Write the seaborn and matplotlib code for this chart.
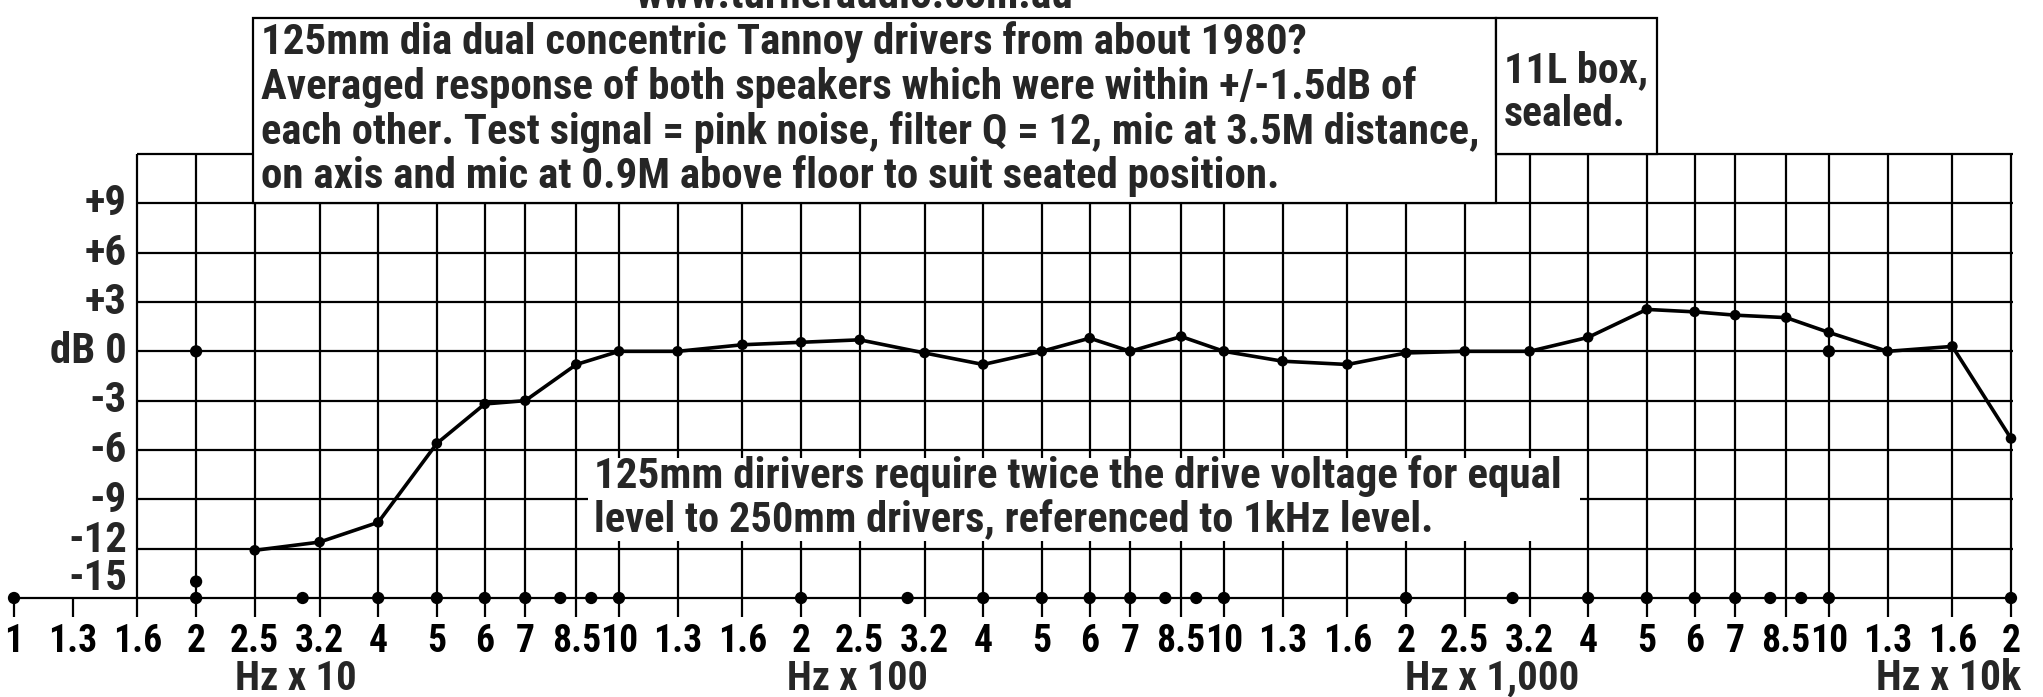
import matplotlib
matplotlib.use("Agg")
import matplotlib.pyplot as plt
from matplotlib import font_manager as fm
from matplotlib.patches import Rectangle
import pandas as pd
import seaborn as sns

# ---------------- data ----------------
curve_freq = [25, 32, 40, 50, 60, 70, 85, 100, 125, 160, 200, 250, 320, 400, 500,
              600, 700, 850, 1000, 1250, 1600, 2000, 2500, 3200, 4000, 5000, 6000,
              7000, 8500, 10000, 12500, 16000, 20000]
curve_db = [-12.1, -11.6, -10.4, -5.6, -3.2, -3.0, -0.8, 0.0, 0.0, 0.4, 0.55, 0.7,
            -0.1, -0.8, 0.0, 0.8, 0.0, 0.9, 0.0, -0.6, -0.8, -0.1, 0.0, 0.0, 0.85,
            2.55, 2.4, 2.2, 2.05, 1.15, 0.0, 0.3, -5.3]

axis_marker_freq = [10, 20, 30, 40, 50, 60, 70, 80, 90, 100, 200, 300, 400, 500, 600,
                    700, 800, 900, 1000, 2000, 3000, 4000, 5000, 6000, 7000, 8000,
                    9000, 10000, 20000]
axis_marker_db = [-15] * len(axis_marker_freq)

ref_marker_freq = [20, 20, 10000]
ref_marker_db = [0, -14, 0]

grid_freq = [16, 20, 25, 32, 40, 50, 60, 70, 85, 100, 125, 160, 200, 250, 320, 400,
             500, 600, 700, 850, 1000, 1250, 1600, 2000, 2500, 3200, 4000, 5000,
             6000, 7000, 8500, 10000, 12500, 16000, 20000]
grid_db = [12, 9, 6, 3, 0, -3, -6, -9, -12]

tick_freq = [10, 12.5] + grid_freq
decade_labels = ['1.3', '1.6', '2', '2.5', '3.2', '4', '5', '6', '7', '8.5', '10']
tick_labels = ['1'] + decade_labels * 3 + ['1.3', '1.6', '2']

ylabel_text = ['+9', '+6', '+3', 'dB 0', '-3', '-6', '-9', '-12', '-15']
axis_titles = ['Hz x 10', 'Hz x 100', 'Hz x 1,000', 'Hz x 10k']

title_text = 'www.turneraudio.com.au'
note_lines = ['125mm dia dual concentric Tannoy drivers from about 1980?',
              'Averaged response of both speakers which were within +/-1.5dB of',
              'each other. Test signal = pink noise, filter Q = 12, mic at 3.5M distance,',
              'on axis and mic at 0.9M above floor to suit seated position.']
box_lines = ['11L box,', 'sealed.']
drive_lines = ['125mm dirivers require twice the drive voltage for equal',
               'level to 250mm drivers, referenced to 1kHz level.']

# ---------------- style ----------------
sns.set_theme(style="white")


def has_font(name):
    try:
        fm.findfont(fm.FontProperties(family=name), fallback_to_default=False)
        return True
    except Exception:
        return False


FAM = 'Liberation Sans'
for cand in ['Liberation Sans Narrow', 'Roboto Condensed', 'Open Sans Condensed']:
    if has_font(cand):
        FAM = cand
        break
plt.rcParams['font.family'] = [FAM, 'DejaVu Sans']
plt.rcParams['font.weight'] = 'bold'

W, H = 2043, 697
fig = plt.figure(figsize=(W / 100, H / 100), dpi=100, facecolor='white')


def fx(px):
    return px / W


def fy(py):
    return 1 - py / H


ax = fig.add_axes([fx(14), fy(598), (2011 - 14) / W, (598 - 154) / H])
ax.set_facecolor('white')
ax.set_xscale('log')
ax.set_xlim(10, 20000)
ax.set_ylim(-15, 12)
for s in ax.spines.values():
    s.set_visible(False)

LW = 1.6
# grid
ax.vlines(grid_freq, -15, 12, color='black', lw=LW, zorder=1, clip_on=False)
ax.hlines(grid_db, 16, 20150, color='black', lw=LW, zorder=1, clip_on=False)
ax.hlines(-15, 10, 20150, color='black', lw=LW, zorder=1, clip_on=False)

# ticks
ax.set_xticks(tick_freq)
ax.set_xticks([], minor=True)
ax.set_xticklabels(tick_labels)
ax.set_yticks([])
ax.tick_params(axis='x', direction='out', length=19 * 0.72, width=LW,
               color='black', pad=4.0, labelcolor='black', bottom=True)

# data
df_curve = pd.DataFrame({'freq': curve_freq, 'db': curve_db})
sns.lineplot(data=df_curve, x='freq', y='db', ax=ax, color='black', lw=2.6,
             sort=False, estimator=None, zorder=3, clip_on=False)
sns.scatterplot(data=df_curve, x='freq', y='db', ax=ax, color='black', s=58,
                edgecolor='none', zorder=4, clip_on=False)
df_axis = pd.DataFrame({'freq': axis_marker_freq, 'db': axis_marker_db})
sns.scatterplot(data=df_axis, x='freq', y='db', ax=ax, color='black', s=78,
                edgecolor='none', zorder=4, clip_on=False)
df_ref = pd.DataFrame({'freq': ref_marker_freq, 'db': ref_marker_db})
sns.scatterplot(data=df_ref, x='freq', y='db', ax=ax, color='black', s=78,
                edgecolor='none', zorder=4, clip_on=False)
ax.set_xlabel('')
ax.set_ylabel('')


# boxes (figure pixel coordinates)
def rect(x0, y0, x1, y1, edge=True):
    r = Rectangle((fx(x0), fy(y1)), (x1 - x0) / W, (y1 - y0) / H,
                  transform=fig.transFigure, facecolor='white',
                  edgecolor='black' if edge else 'none', lw=LW, zorder=10)
    fig.add_artist(r)


rect(253, 18, 1496, 203)
rect(1496, 18, 1657, 154)
rect(588, 458, 1580, 541, edge=False)

fig.canvas.draw()
renderer = fig.canvas.get_renderer()


def fit(t, target):
    for _ in range(2):
        w = t.get_window_extent(renderer).width
        t.set_fontsize(t.get_fontsize() * target / w)


note_base = [54, 99, 144, 188]
note_right = [1307, 1417, 1482, 1276]
sizes = []
for line, b, r in zip(note_lines, note_base, note_right):
    t = fig.text(fx(261), fy(b), line, ha='left', va='baseline', fontsize=24,
                 fontweight='bold', zorder=11)
    fit(t, r - 261)
    sizes.append(t.get_fontsize())
for line, b, r in zip(box_lines, [82, 126], [1648, 1626]):
    t = fig.text(fx(1504), fy(b), line, ha='left', va='baseline', fontsize=24,
                 fontweight='bold', zorder=11)
    fit(t, r - 1504)
for line, b, r in zip(drive_lines, [488, 532], [1562, 1434]):
    t = fig.text(fx(594), fy(b), line, ha='left', va='baseline', fontsize=24,
                 fontweight='bold', zorder=11)
    fit(t, r - 594)
    sizes.append(t.get_fontsize())

FS = sum(sizes) / len(sizes)

t = fig.text(fx(854), fy(8), title_text, ha='center', va='baseline', fontsize=FS,
             fontweight='bold', zorder=11)
fit(t, 1073 - 635)

for lab in ax.get_xticklabels():
    lab.set_fontsize(FS * 0.88)
    lab.set_fontweight('bold')

ylab_base = [215, 265, 314, 363, 412, 462, 512, 552, 590]
for txt, b in zip(ylabel_text, ylab_base):
    fig.text(fx(127), fy(b), txt, ha='right', va='baseline', fontsize=FS,
             fontweight='bold', zorder=11)

title_span = [(235, 357), (787, 928), (1405, 1579), (1876, 2021)]
for txt, (x0, x1) in zip(axis_titles, title_span):
    t = fig.text(fx((x0 + x1) / 2), fy(690), txt, ha='center', va='baseline',
                 fontsize=FS, fontweight='bold', zorder=11)
    fit(t, x1 - x0)

fig.savefig('out.png', dpi=100, facecolor='white')
